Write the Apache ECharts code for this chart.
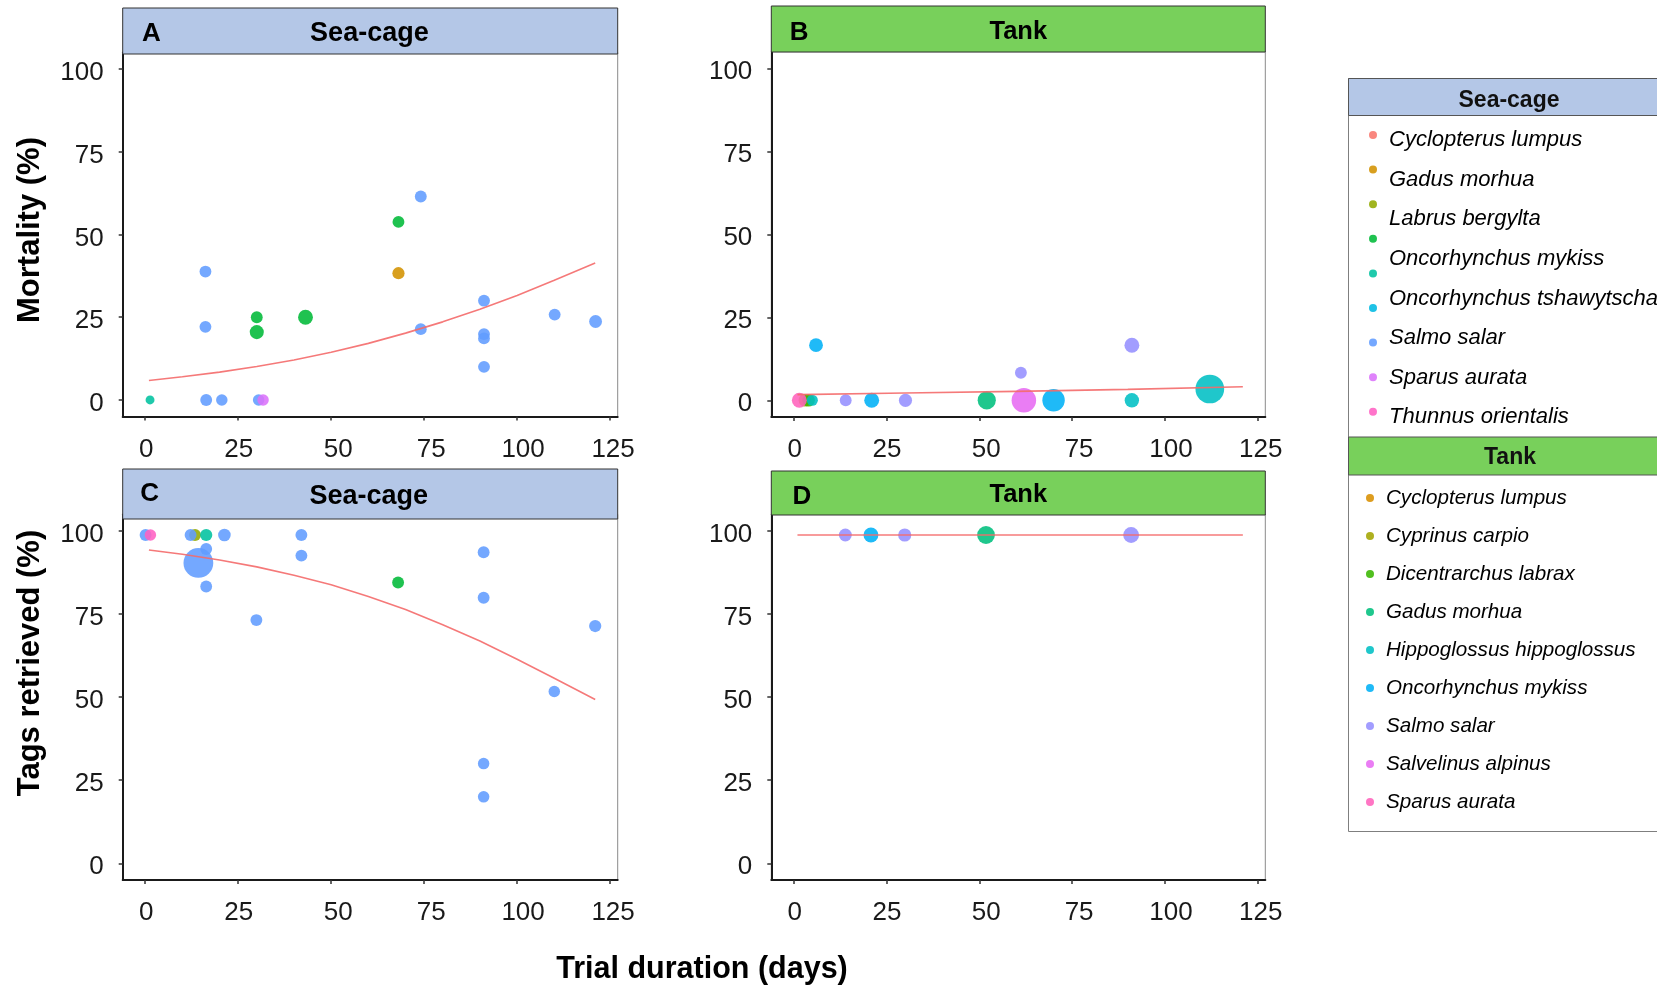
<!DOCTYPE html>
<html>
<head>
<meta charset="utf-8">
<script src="https://cdn.jsdelivr.net/npm/echarts@6/dist/echarts.min.js"></script>
<style>
  html, body { margin: 0; padding: 0; background: #ffffff; }
  #chart { width: 1657px; height: 987px; }
</style>
</head>
<body>
<div id="chart"></div>
<script>
// ---------------- DATA ----------------
const xTicks = [0, 25, 50, 75, 100, 125];
const yTicks = [0, 25, 50, 75, 100];

const seaCageSpecies = ['Cyclopterus lumpus', 'Gadus morhua', 'Labrus bergylta', 'Oncorhynchus mykiss',
  'Oncorhynchus sp.', 'Oncorhynchus tshawytscha', 'Salmo salar', 'Sparus aurata', 'Thunnus orientalis'];
const seaCageLegendLabels = ['Cyclopterus lumpus', 'Gadus morhua', 'Labrus bergylta', 'Oncorhynchus mykiss',
  'Oncorhynchus tshawytscha', 'Salmo salar', 'Sparus aurata', 'Thunnus orientalis'];
const tankSpecies = ['Cyclopterus lumpus', 'Cyprinus carpio', 'Dicentrarchus labrax', 'Gadus morhua',
  'Hippoglossus hippoglossus', 'Oncorhynchus mykiss', 'Salmo salar', 'Salvelinus alpinus', 'Sparus aurata'];

// rows: [species, trial duration (days), value (%), sample weight]
const mortalitySeaCage = [
  ['Oncorhynchus sp.', 1.3, 0, 3.5],
  ['Salmo salar', 16.4, 0, 10], ['Salmo salar', 20.6, 0, 9], ['Salmo salar', 30.5, 0, 9],
  ['Sparus aurata', 31.7, 0, 9],
  ['Salmo salar', 16.2, 38.8, 10], ['Salmo salar', 16.2, 22.1, 10],
  ['Oncorhynchus mykiss', 30, 25, 10], ['Oncorhynchus mykiss', 30, 20.5, 17],
  ['Oncorhynchus mykiss', 43.1, 25, 20], ['Oncorhynchus mykiss', 68.1, 53.8, 10],
  ['Gadus morhua', 68.1, 38.3, 11],
  ['Salmo salar', 74.1, 61.5, 10], ['Salmo salar', 74.1, 21.4, 10],
  ['Salmo salar', 91.1, 30, 10], ['Salmo salar', 91.1, 19.9, 10], ['Salmo salar', 91.1, 18.6, 10],
  ['Salmo salar', 91.1, 10, 10], ['Salmo salar', 110.1, 25.8, 10], ['Salmo salar', 121.1, 23.7, 13]
];
const mortalityTank = [
  ['Sparus aurata', 1.5, 0, 20], ['Cyprinus carpio', 3, 0, 12], ['Dicentrarchus labrax', 4, 0, 12],
  ['Hippoglossus hippoglossus', 5, 0, 8],
  ['Oncorhynchus mykiss', 6, 16.6, 16], ['Oncorhynchus mykiss', 21, 0, 20], ['Oncorhynchus mykiss', 70, 0, 60],
  ['Salmo salar', 14, 0, 10], ['Salmo salar', 30.1, 0, 14], ['Salmo salar', 61.2, 8.3, 10], ['Salmo salar', 91.1, 16.6, 20],
  ['Gadus morhua', 52, 0, 35],
  ['Salvelinus alpinus', 62, 0, 75],
  ['Hippoglossus hippoglossus', 91.1, 0, 18], ['Hippoglossus hippoglossus', 112.1, 3.4, 110]
];
const tagsSeaCage = [
  ['Salmo salar', 0.1, 98.8, 10], ['Thunnus orientalis', 1.4, 98.8, 9],
  ['Salmo salar', 12.2, 98.8, 10], ['Labrus bergylta', 13.4, 98.8, 10], ['Oncorhynchus sp.', 16.4, 98.8, 11],
  ['Salmo salar', 21.3, 98.8, 12], ['Salmo salar', 42, 98.8, 10], ['Salmo salar', 42, 92.6, 10],
  ['Salmo salar', 16.4, 94.6, 10], ['Salmo salar', 14.3, 90.4, 120], ['Salmo salar', 16.4, 83.3, 10],
  ['Salmo salar', 29.9, 73.2, 10], ['Oncorhynchus mykiss', 68, 84.5, 10],
  ['Salmo salar', 91, 93.6, 10], ['Salmo salar', 91, 79.9, 10], ['Salmo salar', 121, 71.4, 11],
  ['Salmo salar', 110, 51.7, 9], ['Salmo salar', 91, 30, 9], ['Salmo salar', 91, 20, 9]
];
const tagsTank = [
  ['Salmo salar', 13.9, 98.8, 13], ['Oncorhynchus mykiss', 20.8, 98.8, 20], ['Salmo salar', 29.9, 98.8, 14],
  ['Gadus morhua', 51.8, 98.8, 33], ['Salmo salar', 90.9, 98.8, 24]
];

// fitted trend lines: [days, %]
const trendMortalitySeaCage = [[1, 5.9], [10, 7.0], [20, 8.4], [30, 10.1], [40, 12.1], [50, 14.4], [60, 17.1],
  [70, 20.2], [80, 23.6], [90, 27.4], [100, 31.6], [110, 36.2], [121, 41.4]];
const trendMortalityTank = [[1, 1.7], [30, 2.2], [60, 2.7], [90, 3.3], [121, 4.1]];
const trendTagsSeaCage = [[1, 94.3], [10, 93.0], [20, 91.3], [30, 89.2], [40, 86.7], [50, 83.8], [60, 80.3],
  [70, 76.4], [80, 71.8], [90, 66.9], [100, 61.4], [110, 55.7], [121, 49.3]];
const trendTagsTank = [[1, 98.8], [121, 98.8]];

// ---------------- STYLE ----------------
const seaCageColors = ['#F8766D', '#D39200', '#93AA00', '#00BA38', '#00C19F', '#00B9E3', '#619CFF', '#DB72FB', '#FF61C3'];
const tankColors = ['#D89000', '#A3A500', '#39B600', '#00BF7D', '#00BFC4', '#00B0F6', '#9590FF', '#E76BF3', '#FF62BC'];
const FONT = 'Liberation Sans, Arial, sans-serif';
const stripBlue = '#B4C7E7';
const stripGreen = '#78D05B';
const TANK_PREFIX = 'Tank: ';
// small horizontal nudges of the x tick labels, as set in the reference
const xLabelShift = { 0: 1, 25: 0.5, 50: 7, 75: 7, 100: 6, 125: 3 };

const grids = [
  { left: 122.7, top: 52.5, width: 495, height: 364 },   // A
  { left: 771.3, top: 51.7, width: 494, height: 365.2 }, // B
  { left: 122.7, top: 514.4, width: 495, height: 365.5 },// C
  { left: 771.3, top: 514.4, width: 494, height: 365.5 } // D
];

const panels = [
  { rows: mortalitySeaCage, trend: trendMortalitySeaCage, species: seaCageSpecies, colors: seaCageColors, prefix: '' },
  { rows: mortalityTank, trend: trendMortalityTank, species: tankSpecies, colors: tankColors, prefix: TANK_PREFIX },
  { rows: tagsSeaCage, trend: trendTagsSeaCage, species: seaCageSpecies, colors: seaCageColors, prefix: '' },
  { rows: tagsTank, trend: trendTagsTank, species: tankSpecies, colors: tankColors, prefix: TANK_PREFIX }
];

const labelRich = { fontSize: 26, fontFamily: FONT, color: '#1a1a1a' };
const xRich = {};
xTicks.forEach(t => { xRich['s' + t] = Object.assign({ padding: [0, 0, 0, 2 * xLabelShift[t]] }, labelRich); });

function makeXAxis(i) {
  return {
    type: 'value', gridIndex: i, min: -6.05, max: 127.05,
    splitLine: { show: false },
    axisLine: { show: true, onZero: false, lineStyle: { color: '#1a1a1a', width: 2 } },
    axisTick: { show: true, length: 4, customValues: xTicks, lineStyle: { color: '#333', width: 1.5 } },
    axisLabel: { customValues: xTicks, margin: 20, color: '#1a1a1a', fontSize: 26, fontFamily: FONT,
      formatter: v => '{s' + v + '|' + v + '}', rich: xRich }
  };
}
function makeYAxis(i) {
  return {
    type: 'value', gridIndex: i, min: -5, max: 105,
    splitLine: { show: false },
    axisLine: { show: true, onZero: false, lineStyle: { color: '#1a1a1a', width: 2 } },
    axisTick: { show: true, length: 4, customValues: yTicks, lineStyle: { color: '#333', width: 1.5 } },
    axisLabel: { customValues: yTicks, margin: 19, color: '#1a1a1a', fontSize: 26, fontFamily: FONT,
      formatter: v => '{y|' + v + '}', rich: { y: Object.assign({ padding: [8, 0, 0, 0] }, labelRich) } }
  };
}

const series = [];
panels.forEach((p, i) => {
  p.species.forEach((sp, k) => {
    series.push({
      type: 'scatter',
      name: p.prefix + sp,
      xAxisIndex: i, yAxisIndex: i,
      data: p.rows.filter(r => r[0] === sp).map(r => [r[1], r[2], r[3]]),
      symbol: 'circle',
      symbolSize: v => 4.6 + 2.3 * Math.sqrt(v[2]),
      itemStyle: { color: p.colors[k], opacity: 0.88 },
      z: 3
    });
  });
  series.push({
    type: 'line', name: 'trend' + i, xAxisIndex: i, yAxisIndex: i,
    data: p.trend, showSymbol: false, symbol: 'none', smooth: false,
    lineStyle: { color: '#F46A6A', width: 1.6, opacity: 0.9 },
    z: 6, silent: true
  });
});

const strips = [
  { g: 0, y: 8, h: 46, fill: stripBlue, letter: 'A', lx: 151.4, ly: 34, title: 'Sea-cage', tx: 369.4, ty: 34, fs: 27 },
  { g: 1, y: 6, h: 46, fill: stripGreen, letter: 'B', lx: 799.2, ly: 32.5, title: 'Tank', tx: 1018.3, ty: 31.5, fs: 25.5 },
  { g: 2, y: 469, h: 50, fill: stripBlue, letter: 'C', lx: 149.7, ly: 493.5, title: 'Sea-cage', tx: 368.7, ty: 497, fs: 27 },
  { g: 3, y: 471, h: 44, fill: stripGreen, letter: 'D', lx: 802, ly: 497, title: 'Tank', tx: 1018.3, ty: 495, fs: 25.5 }
];

const graphic = [];
strips.forEach(s => {
  const gr = grids[s.g];
  graphic.push({ type: 'rect', z: 10, shape: { x: gr.left, y: s.y, width: gr.width, height: s.h },
    style: { fill: s.fill, stroke: '#333', lineWidth: 1 } });
  graphic.push({ type: 'text', z: 11, x: s.lx, y: s.ly,
    style: { text: s.letter, font: 'bold 26px ' + FONT, fill: '#000', align: 'center', verticalAlign: 'middle' } });
  graphic.push({ type: 'text', z: 11, x: s.tx, y: s.ty,
    style: { text: s.title, font: 'bold ' + s.fs + 'px ' + FONT, fill: '#000', align: 'center', verticalAlign: 'middle' } });
});
// axis titles
graphic.push({ type: 'text', z: 11, x: 30, y: 230, rotation: Math.PI / 2,
  style: { text: 'Mortality (%)', font: 'bold 31px ' + FONT, fill: '#000', align: 'center', verticalAlign: 'middle' } });
graphic.push({ type: 'text', z: 11, x: 30, y: 663, rotation: Math.PI / 2,
  style: { text: 'Tags retrieved (%)', font: 'bold 31px ' + FONT, fill: '#000', align: 'center', verticalAlign: 'middle' } });
graphic.push({ type: 'text', z: 11, x: 702, y: 970,
  style: { text: 'Trial duration (days)', font: 'bold 30.5px ' + FONT, fill: '#000', align: 'center', verticalAlign: 'middle' } });
// legend box
graphic.push({ type: 'rect', z: 0, shape: { x: 1348.5, y: 78.5, width: 330, height: 753 },
  style: { fill: '#fff', stroke: '#7f7f7f', lineWidth: 1 } });
graphic.push({ type: 'rect', z: 1, shape: { x: 1348.5, y: 78.5, width: 330, height: 37 },
  style: { fill: stripBlue, stroke: '#555', lineWidth: 1 } });
graphic.push({ type: 'rect', z: 1, shape: { x: 1348.5, y: 437, width: 330, height: 38 },
  style: { fill: stripGreen, stroke: '#555', lineWidth: 1 } });
graphic.push({ type: 'text', z: 2, x: 1509, y: 101,
  style: { text: 'Sea-cage', font: 'bold 23px ' + FONT, fill: '#111', align: 'center', verticalAlign: 'middle' } });
graphic.push({ type: 'text', z: 2, x: 1510, y: 458,
  style: { text: 'Tank', font: 'bold 23px ' + FONT, fill: '#111', align: 'center', verticalAlign: 'middle' } });

const seaLegendText = { fontSize: 22, fontStyle: 'italic', fontFamily: FONT, color: '#000', lineHeight: 24 };
const tankLegendText = { fontSize: 20.6, fontStyle: 'italic', fontFamily: FONT, color: '#000', lineHeight: 24 };

const option = {
  backgroundColor: '#ffffff',
  animation: false,
  grid: grids.map(g => Object.assign({ show: true, borderColor: '#8a8a8a', borderWidth: 1, backgroundColor: '#fff',
    containLabel: false, outerBoundsMode: 'none' }, g)),
  xAxis: [0, 1, 2, 3].map(makeXAxis),
  yAxis: [0, 1, 2, 3].map(makeYAxis),
  legend: [
    { // sea-cage markers (9 colours)
      orient: 'vertical', left: 1369, top: 131, padding: 0, itemWidth: 8, itemHeight: 8, itemGap: 26.6,
      icon: 'circle', selectedMode: false, data: seaCageSpecies,
      formatter: () => '', textStyle: { fontSize: 1, lineHeight: 1 }
    },
    { // sea-cage labels (8 names)
      orient: 'vertical', left: 1383, top: 128, padding: 0, itemWidth: 1, itemHeight: 1, itemGap: 15.6,
      icon: 'rect', selectedMode: false, data: seaCageLegendLabels,
      itemStyle: { opacity: 0 }, textStyle: seaLegendText
    },
    { // tank
      orient: 'vertical', left: 1366, top: 486, padding: 0, itemWidth: 22, itemHeight: 8, itemGap: 14,
      icon: 'circle', selectedMode: false, data: tankSpecies.map(s => TANK_PREFIX + s),
      formatter: name => name.replace(TANK_PREFIX, ''), textStyle: tankLegendText
    }
  ],
  graphic: graphic,
  series: series
};

const chart = echarts.init(document.getElementById('chart'), null, { renderer: 'canvas' });
chart.setOption(option);
</script>
</body>
</html>
